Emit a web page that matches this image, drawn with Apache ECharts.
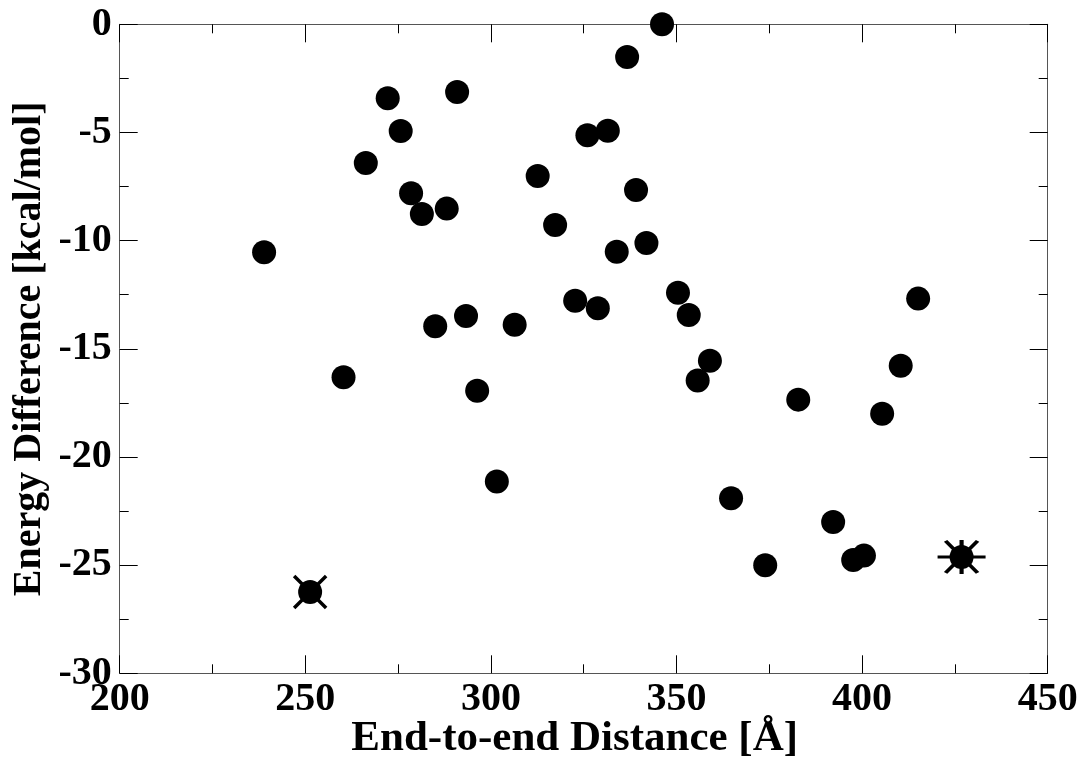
<!DOCTYPE html>
<html>
<head>
<meta charset="utf-8">
<title>Energy Difference vs End-to-end Distance</title>
<script src="https://cdn.jsdelivr.net/npm/echarts@6/dist/echarts.min.js"></script>
<style>
  html, body { margin: 0; padding: 0; background: #fff; }
  #chart { width: 1081px; height: 765px; }
</style>
</head>
<body>
<div id="chart"></div>
<script>
// End-to-end distance (Å) and energy difference (kcal/mol) of each conformer
const distance = [
  238.9, 260.3, 266.3, 272.2, 275.7, 278.5, 281.4, 285.0, 288.1, 290.9,
  293.3, 296.3, 301.6, 306.4, 312.6, 317.3, 322.7, 326.0, 328.8, 331.5,
  333.9, 336.7, 339.1, 341.9, 346.1, 350.4, 353.3, 355.7, 359.0, 364.7,
  373.9, 382.8, 392.2, 397.6, 400.5, 405.4, 410.4, 415.1
];
const energy = [
  -10.54, -16.32, -6.41, -3.42, -4.93, -7.81, -8.77, -13.96, -8.52, -3.13,
  -13.48, -16.94, -21.13, -13.89, -7.01, -9.28, -12.78, -5.13, -13.13, -4.92,
  -10.51, -1.51, -7.66, -10.11, 0.0, -12.41, -13.44, -16.47, -15.55, -21.91,
  -25.01, -17.35, -23.01, -24.76, -24.56, -18.0, -15.78, -12.68
];

// Highlighted conformers: shortest (cross) and longest (asterisk)
const crossPoint = [251.3, -26.24];
const starPoint = [426.8, -24.62];

const xTicks = [200, 250, 300, 350, 400, 450];
const yTicks = [-30, -25, -20, -15, -10, -5, 0];

const FONT = '"Liberation Serif", "DejaVu Serif", serif';

const points = distance.map((d, i) => [d, energy[i]]);

function axisCommon(show) {
  return {
    axisLine: { show: true, onZero: false, lineStyle: { color: '#555', width: 1 } },
    axisTick: { show: true, inside: true, length: 18, lineStyle: { color: '#000', width: 1 } },
    minorTick: { show: true, splitNumber: 2, length: 9, lineStyle: { color: '#000', width: 1 } },
    splitLine: { show: false },
    minorSplitLine: { show: false },
    axisLabel: show ? {
      color: '#000', fontFamily: FONT, fontWeight: 'bold', fontSize: 40
    } : { show: false }
  };
}

const chart = echarts.init(document.getElementById('chart'), null, { renderer: 'canvas' });

chart.setOption({
  backgroundColor: '#fff',
  animation: false,
  grid: {
    left: 119.7, right: 33.3, top: 24.3, bottom: 91.7,
    containLabel: false, outerBoundsMode: 'none'
  },
  xAxis: [
    Object.assign(axisCommon(true), {
      type: 'value', position: 'bottom', min: xTicks[0], max: xTicks[xTicks.length - 1], interval: 50,
      name: 'End-to-end Distance [Å]', nameLocation: 'middle', nameGap: 44, nameMoveOverlap: false,
      nameTextStyle: { color: '#000', fontFamily: FONT, fontWeight: 'bold', fontSize: 43, padding: [0, 18, 0, 0] },
      axisLabel: { color: '#000', fontFamily: FONT, fontWeight: 'bold', fontSize: 40, margin: 6 }
    }),
    Object.assign(axisCommon(false), {
      type: 'value', position: 'top', min: xTicks[0], max: xTicks[xTicks.length - 1], interval: 50
    })
  ],
  yAxis: [
    Object.assign(axisCommon(true), {
      type: 'value', position: 'left', min: yTicks[0], max: yTicks[yTicks.length - 1], interval: 5,
      name: 'Energy Difference [kcal/mol]', nameLocation: 'middle', nameGap: 70, nameMoveOverlap: false,
      nameTextStyle: { color: '#000', fontFamily: FONT, fontWeight: 'bold', fontSize: 40 },
      axisLabel: { color: '#000', fontFamily: FONT, fontWeight: 'bold', fontSize: 40, margin: 8 }
    }),
    Object.assign(axisCommon(false), {
      type: 'value', position: 'right', min: yTicks[0], max: yTicks[yTicks.length - 1], interval: 5
    })
  ],
  series: [
    {
      name: 'conformers', type: 'scatter', xAxisIndex: 0, yAxisIndex: 0,
      data: points, symbol: 'circle', symbolSize: 24, clip: false,
      itemStyle: { color: '#000', opacity: 1 }
    },
    {
      name: 'highlighted', type: 'scatter', xAxisIndex: 0, yAxisIndex: 0,
      data: [crossPoint, starPoint], symbol: 'circle', symbolSize: 24, clip: false,
      itemStyle: { color: '#000', opacity: 1 }
    },
    {
      name: 'shortest-cross', type: 'scatter', xAxisIndex: 0, yAxisIndex: 0,
      data: [crossPoint], symbol: 'path://M0,0L32,32M32,0L0,32', symbolSize: 32, clip: false,
      itemStyle: { color: 'rgba(0,0,0,0)', borderColor: '#000', borderWidth: 3.5, opacity: 1 }
    },
    {
      name: 'longest-star', type: 'scatter', xAxisIndex: 0, yAxisIndex: 0,
      data: [starPoint], symbol: 'path://M0,17L48,17M24,0L24,34M8,1L40,33M40,1L8,33', symbolSize: [48, 34], clip: false,
      itemStyle: { color: 'rgba(0,0,0,0)', borderColor: '#000', borderWidth: 3.5, opacity: 1 }
    }
  ]
});
</script>
</body>
</html>
